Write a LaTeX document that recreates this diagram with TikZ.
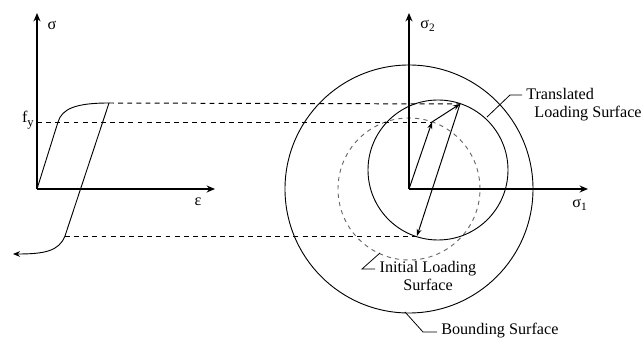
\documentclass[tikz,border=0pt]{standalone}
\usepackage{fontspec}
\setmainfont{Liberation Serif}
\usetikzlibrary{arrows.meta,calc}

\begin{document}
\begin{tikzpicture}[
  x=0.25mm,
  y=0.25mm,
  axis/.style={-{Stealth[length=6pt,width=5pt]}, line width=.9pt},
  curve/.style={line width=.65pt},
  guide/.style={dash pattern=on 3.5pt off 3pt, line width=.7pt},
  surface/.style={line width=.65pt},
  initsurface/.style={surface, draw=black!60, dash pattern=on 3pt off 3pt},
  vec/.style={-{Stealth[length=5pt,width=3.5pt]}, line width=.7pt},
  leader/.style={line width=.55pt},
  lbl/.style={font=\fontsize{11.5}{12.8}\selectfont, inner sep=0pt}
]

\useasboundingbox (0,0) rectangle (643,339);

% uniaxial stress-strain curve
\coordinate (o1) at (37,150);
\coordinate (ytop) at (37,326);
\coordinate (xend) at (215,150);
\coordinate (yield) at (58,217);
\coordinate (peak) at (109,236);
\coordinate (unload) at (65,103);
\coordinate (tail) at (13,85);

\draw[axis] (o1) -- (ytop);
\draw[axis] (o1) -- (xend);
\node[lbl] (sig) at (52,314) {σ};
\node[lbl] (eps) at (198,137) {ε};
\node[lbl, anchor=east] (fy) at (34,219) {f\raisebox{-.55ex}{\small y}};

\draw[curve, -{Stealth[length=5pt,width=4pt]}] (o1) -- (yield)
  .. controls ($(yield)+(4,13)$) and (75,236) .. (peak) -- (unload)
  .. controls (59,88) and (45,85) .. (tail);

% stress space
\coordinate (o2) at (409,150);
\coordinate (s2top) at (409,326);
\coordinate (s1end) at (588,150);
\coordinate (ctr) at (438,169);
\coordinate (t0) at (432,217);
\coordinate (t1) at (460,235);
\coordinate (bt) at (417,103);

\draw[surface] (o2) circle[radius=124];
\draw[initsurface] (o2) circle[radius=71];
\draw[surface] (ctr) circle[radius=70];

\draw[axis] (o2) -- (s2top);
\draw[axis] (o2) -- (s1end);
\node[lbl] (sig2) at (428,313) {σ\textsubscript{2}};
\node[lbl] (sig1) at (580,134) {σ\textsubscript{1}};

\draw[guide] (o1 |- yield) -- (t0);
\draw[guide] (peak) -- (t1);
\draw[guide] (unload) -- (bt);

\draw[vec] (o2) -- (t0);
\draw[vec] (t0) -- (t1);
\draw[vec] (t1) -- (bt);

% labels with leaders
\node[lbl, anchor=north west, align=left] (trans) at (526,251)
  {Translated\\\hspace{.5em}Loading Surface};
\coordinate (tl) at (487,222);
\coordinate (tk) at (510,244);
\coordinate (te) at (522,244);
\draw[leader] (tl) -- (tk) -- (te);

\node[lbl, anchor=north, align=center] (init) at (428,78)
  {Initial Loading\\Surface};
\coordinate (il) at (380,86);
\coordinate (ik) at (362,70);
\coordinate (ie) at (375,70);
\draw[leader] (il) -- (ik) -- (ie);

\node[lbl, anchor=base west] (bound) at (441,4) {Bounding Surface};
\coordinate (bl) at (405,27);
\coordinate (bk) at (423,7);
\coordinate (be) at (437,7);
\draw[leader] (bl) -- (bk) -- (be);
\end{tikzpicture}
\end{document}
